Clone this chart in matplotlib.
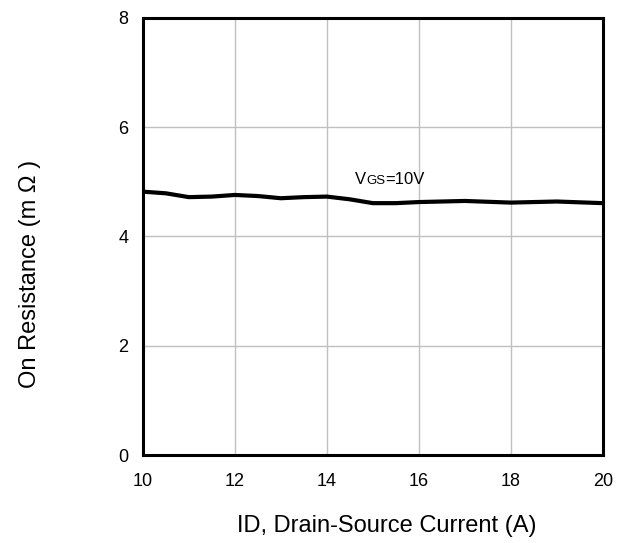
import matplotlib
matplotlib.use("Agg")
import matplotlib.pyplot as plt

plt.rcParams['font.family'] = ['Liberation Sans', 'DejaVu Sans']

# drain current (A) and on resistance (mOhm)
current = [10, 10.5, 11, 11.5, 12, 12.5, 13, 13.5, 14, 14.5, 15, 15.5, 16, 17, 18, 19, 20]
rdson = [4.82, 4.79, 4.72, 4.73, 4.76, 4.74, 4.70, 4.72, 4.73, 4.68, 4.61, 4.61,
         4.63, 4.65, 4.62, 4.64, 4.61]
xticks = [10, 12, 14, 16, 18, 20]
yticks = [0, 2, 4, 6, 8]

fig = plt.figure(figsize=(6.24, 5.43), dpi=100)
ax = fig.add_axes([0.229, 0.162, 0.737, 0.805])

ax.plot(current, rdson, color="black", linewidth=3, solid_capstyle="butt")

ax.set_xlim(10, 20)
ax.set_ylim(0, 8)
ax.set_xticks(xticks)
ax.set_yticks(yticks)
ax.grid(True, color="#c0c0c0", linewidth=1)
ax.set_axisbelow(True)
ax.tick_params(length=0, labelsize=13)
ax.tick_params(axis="x", pad=13)
ax.tick_params(axis="y", pad=10.5)
for s in ax.spines.values():
    s.set_linewidth(2.2)
    s.set_color("black")

ax.set_xlabel("ID, Drain-Source Current (A)", fontsize=17)
ax.set_ylabel("On Resistance (m Ω )", fontsize=17)
ax.xaxis.set_label_coords(0.53, -0.137)
ax.yaxis.set_label_coords(-0.222, 0.414)

t1 = ax.text(14.61, 4.96, "V", fontsize=12, va="baseline")
t2 = ax.annotate("GS", xy=(1, 0), xycoords=t1, fontsize=9.5, va="bottom")
ax.annotate("=10V", xy=(1, 0), xycoords=t2, fontsize=12, va="bottom")

fig.savefig("out.png", dpi=100)
